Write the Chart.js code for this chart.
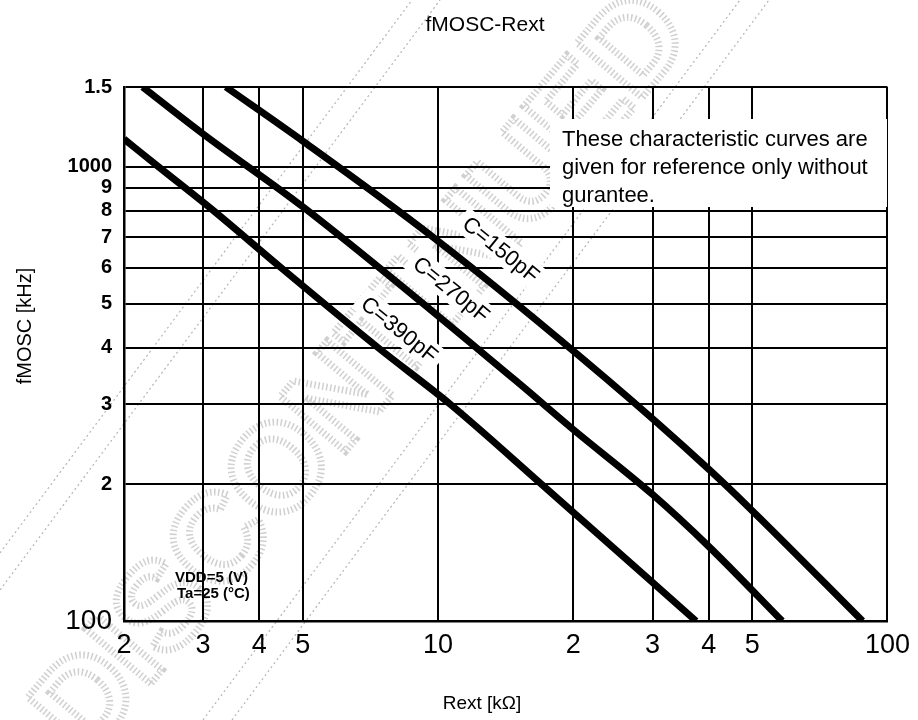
<!DOCTYPE html>
<html>
<head>
<meta charset="utf-8">
<script src="https://cdn.jsdelivr.net/npm/chart.js@4.4.0/dist/chart.umd.min.js"></script>
<style>
    html, body { margin: 0; padding: 0; background: #fff; }
</style>
</head>
<body>
<canvas id="oscChart" width="918" height="720"></canvas>
<script>
// axis ticks
const xTicks = [2, 3, 4, 5, 10, 20, 30, 40, 50, 100];
const xTickLabels = ['2', '3', '4', '5', '10', '2', '3', '4', '5', '100'];
const yTicks = [100, 200, 300, 400, 500, 600, 700, 800, 900, 1000, 1500];
const yTickLabels = ['100', '2', '3', '4', '5', '6', '7', '8', '9', '1000', '1.5'];

// Rext [kOhm] -> fMOSC [kHz]
const rext150 = [3.37, 5, 9.75, 23.8, 40, 50, 88];
const fosc150 = [1500, 1140, 700, 340, 216, 175, 100];
const rext270 = [2.2, 3, 5, 14.8, 20, 30, 40, 58.3];
const fosc270 = [1500, 1182, 817, 340, 264, 190, 146, 100];
const rext390 = [2, 2.39, 3.17, 4.47, 7.35, 10.65, 17.0, 37.5];
const fosc390 = [1152, 1000, 800, 600, 400, 300, 200, 100];

// curve labels: text, x, y (data coords)
const curveLabels = [
    ['C=150pF', 13.8, 657],
    ['C=270pF', 10.7, 537],
    ['C=390pF', 8.2, 438]
];

const noteLines = ['These characteristic curves are', 'given for reference only without', 'gurantee.'];

const FONT = "'Liberation Sans', Arial, Helvetica, sans-serif";
Chart.defaults.font.family = FONT;
Chart.defaults.color = '#000';

function pts(xs, ys) {
    return xs.map((x, i) => ({ x: x, y: ys[i] }));
}

function curve(label, xs, ys) {
    return {
        label: label,
        data: pts(xs, ys),
        showLine: true,
        borderColor: '#000',
        borderWidth: 7,
        pointRadius: 0,
        cubicInterpolationMode: 'monotone',
        fill: false
    };
}

// faint "discontinued" stamp behind the chart
const stamp = {
    id: 'stamp',
    beforeDraw(chart) {
        const ctx = chart.ctx;
        ctx.save();
        ctx.strokeStyle = 'rgba(90,90,90,0.45)';
        ctx.lineWidth = 1.2;
        ctx.setLineDash([2, 3]);
        [[0, 553, 412, 0], [0, 590, 440, 0], [203, 720, 740, 0], [232, 720, 769, 0]].forEach(l => {
            ctx.beginPath();
            ctx.moveTo(l[0], l[1]);
            ctx.lineTo(l[2], l[3]);
            ctx.stroke();
        });
        ctx.translate(365, 375);
        ctx.rotate(-50 * Math.PI / 180);
        ctx.font = 'bold 124px ' + FONT;
        ctx.textAlign = 'center';
        ctx.textBaseline = 'middle';
        ctx.lineWidth = 7;
        ctx.setLineDash([1.5, 2.5]);
        ctx.strokeStyle = 'rgba(120,120,120,0.35)';
        ctx.strokeText('DISCONTINUED', 0, 0);
        ctx.restore();
    }
};

const annotate = {
    id: 'annotate',
    beforeDatasetsDraw(chart) {
        const ctx = chart.ctx;
        const xs = chart.scales.x, ys = chart.scales.y;
        ctx.save();
        // note box
        ctx.fillStyle = '#fff';
        ctx.fillRect(550, 119, 337, 88);
        ctx.fillStyle = '#000';
        ctx.font = '22px ' + FONT;
        ctx.textBaseline = 'middle';
        ctx.textAlign = 'left';
        noteLines.forEach((t, i) => ctx.fillText(t, 562, 140 + i * 28));

        // curve labels
        ctx.font = '22px ' + FONT;
        ctx.textAlign = 'center';
        curveLabels.forEach(l => {
            const px = xs.getPixelForValue(l[1]);
            const py = ys.getPixelForValue(l[2]);
            const w = ctx.measureText(l[0]).width;
            ctx.save();
            ctx.translate(px, py);
            ctx.rotate(39 * Math.PI / 180);
            ctx.fillStyle = '#fff';
            ctx.fillRect(-w / 2 - 6, -13, w + 12, 26);
            ctx.fillStyle = '#000';
            ctx.fillText(l[0], 0, 1);
            ctx.restore();
        });

        // conditions
        ctx.font = 'bold 15px ' + FONT;
        ctx.textAlign = 'left';
        ctx.fillText('VDD=5 (V)', 175, 578);
        ctx.fillText('Ta=25 (°C)', 177, 594);
        ctx.restore();
    },
    afterDraw(chart) {
        const ctx = chart.ctx;
        ctx.save();
        ctx.fillStyle = '#000';
        ctx.textAlign = 'center';
        ctx.textBaseline = 'middle';
        ctx.font = '21px ' + FONT;
        ctx.fillText('fMOSC-Rext', 485, 25);
        ctx.font = '19px ' + FONT;
        ctx.fillText('Rext [kΩ]', 482, 704);
        ctx.translate(25, 326);
        ctx.rotate(-Math.PI / 2);
        ctx.font = '20px ' + FONT;
        ctx.fillText('fMOSC [kHz]', 0, 0);
        ctx.restore();
    }
};

const ctx = document.getElementById('oscChart').getContext('2d');
new Chart(ctx, {
    type: 'scatter',
    data: {
        datasets: [
            curve('C=150pF', rext150, fosc150),
            curve('C=270pF', rext270, fosc270),
            curve('C=390pF', rext390, fosc390)
        ]
    },
    options: {
        responsive: false,
        animation: false,
        devicePixelRatio: 1,
        layout: { padding: { top: 87, right: 25, left: 0, bottom: 0 } },
        plugins: {
            legend: { display: false },
            tooltip: { enabled: false }
        },
        scales: {
            x: {
                type: 'logarithmic',
                min: 2,
                max: 100,
                afterBuildTicks: (scale) => { scale.ticks = xTicks.map(v => ({ value: v })); },
                afterFit: (scale) => { scale.height = 99; },
                ticks: {
                    autoSkip: false,
                    maxRotation: 0,
                    minRotation: 0,
                    padding: 8,
                    font: { size: 27 },
                    color: '#000',
                    callback: (v, i) => xTickLabels[i]
                },
                grid: { color: '#000', lineWidth: 2, drawTicks: false },
                border: { color: '#000', width: 2.5 }
            },
            y: {
                type: 'logarithmic',
                min: 100,
                max: 1500,
                afterBuildTicks: (scale) => { scale.ticks = yTicks.map(v => ({ value: v })); },
                afterFit: (scale) => { scale.width = 124; },
                ticks: {
                    autoSkip: false,
                    padding: 12,
                    color: '#000',
                    font: (c) => (c.tick && c.tick.value === 100)
                        ? { size: 28, weight: 'normal' }
                        : { size: 20, weight: 'bold' },
                    callback: (v, i) => yTickLabels[i]
                },
                grid: { color: '#000', lineWidth: 2, drawTicks: false },
                border: { color: '#000', width: 2.5 }
            }
        }
    },
    plugins: [stamp, annotate]
});
</script>
</body>
</html>
